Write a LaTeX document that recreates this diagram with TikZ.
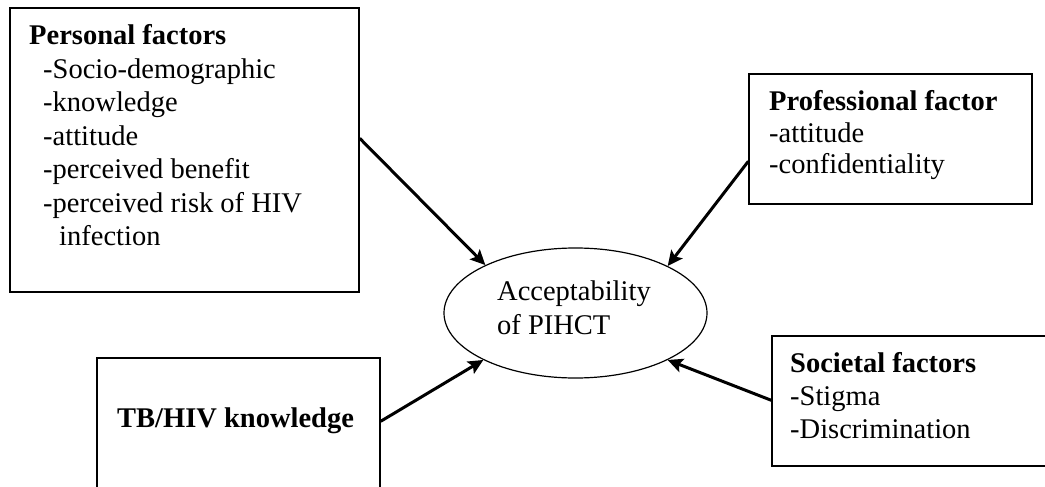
\documentclass[tikz,border=0pt]{standalone}
\usepackage{fontspec}
\setmainfont{Liberation Serif}
\usetikzlibrary{arrows.meta,shapes.geometric,calc}
\begin{document}
\begin{tikzpicture}[x=1pt,y=-1pt,
  box/.style={draw=black,line width=1.4pt,rectangle,inner sep=0pt},
  lbl/.style={anchor=base west,inner sep=0pt,font=\fontsize{28.5}{33}\selectfont},
  hd/.style={anchor=base west,inner sep=0pt,font=\fontsize{28.5}{33}\selectfont\bfseries},
  arr/.style={line width=3pt,-{Stealth[length=15pt,width=14pt,inset=3pt]}},
  ]
\useasboundingbox (0,0) rectangle (1045,487);
\clip (0,0) rectangle (1045,487);

% boxes
\node[box,minimum width=349pt,minimum height=284pt] (personal) at (184.5,150) {};
\node[box,minimum width=283pt,minimum height=130pt] (prof) at (890.5,139) {};
\node[box,minimum width=283pt,minimum height=162pt] (tb) at (238.5,439) {};
\node[box,minimum width=308pt,minimum height=130pt] (soc) at (926,401) {};
\node[draw=black,line width=1.2pt,ellipse,inner sep=0pt,minimum width=263pt,minimum height=130pt] (acc) at (575.5,313) {};

% personal factors
\node[hd]  (p0) at (29,45) {Personal factors};
\node[lbl] (p1) at (43,78.4) {-Socio-demographic};
\node[lbl] (p2) at (43,111.8) {-knowledge};
\node[lbl] (p3) at (43,145.2) {-attitude};
\node[lbl] (p4) at (43,178.6) {-perceived benefit};
\node[lbl] (p5) at (43,212) {-perceived risk of HIV};
\node[lbl] (p6) at (59,245.4) {infection};

% professional factor
\node[hd]  (f0) at (769,110.5) {Professional factor};
\node[lbl] (f1) at (769,142.5) {-attitude};
\node[lbl] (f2) at (769,173) {-confidentiality};

% societal factors
\node[hd]  (s0) at (790,372) {Societal factors};
\node[lbl] (s1) at (790,405) {-Stigma};
\node[lbl] (s2) at (790,438) {-Discrimination};

% TB/HIV
\node[hd] (t0) at (117,427) {TB/HIV knowledge};

% center
\node[lbl] (a1) at (497,300) {Acceptability};
\node[lbl] (a2) at (497,334) {of PIHCT};

% arrows
\draw[arr] ($(personal.north east)+(0,131)$) -- (acc.152.5);
\draw[arr] ($(prof.north west)+(0,88)$) -- (acc.27.5);
\draw[arr] ($(tb.north east)+(0,64)$) -- (acc.207);
\draw[arr] ($(soc.north west)+(0,65)$) -- (acc.333);
\end{tikzpicture}
\end{document}
